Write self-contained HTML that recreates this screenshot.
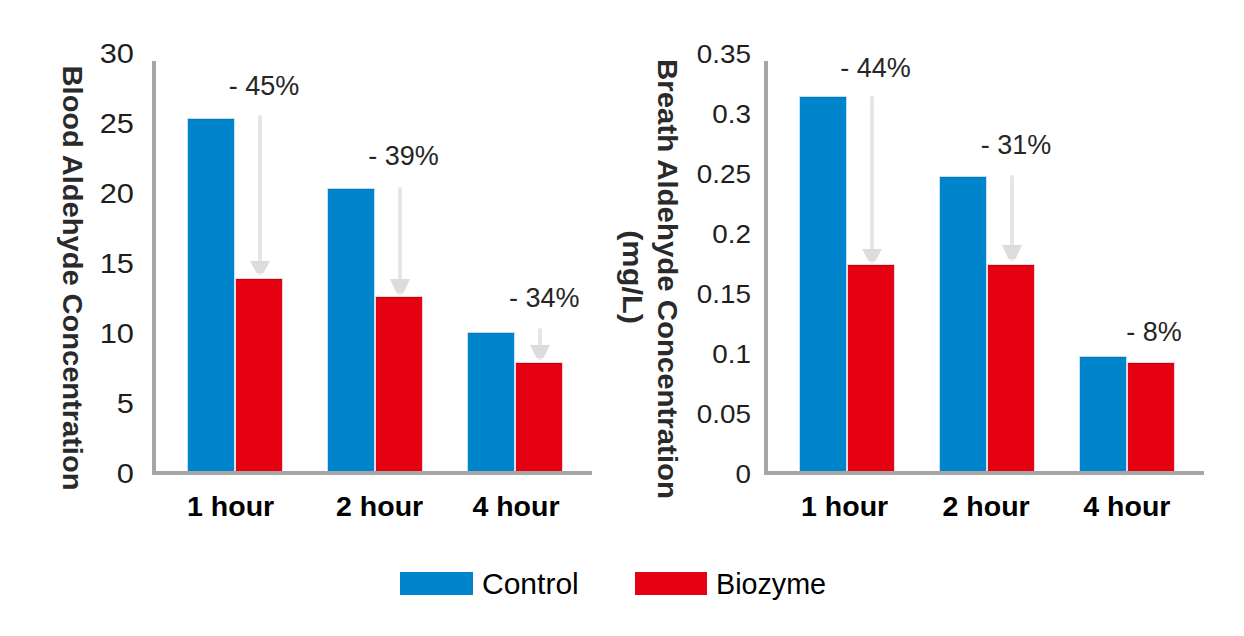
<!DOCTYPE html>
<html><head><meta charset="utf-8"><style>
html,body{margin:0;padding:0;background:#fff;}
body{width:1244px;height:636px;position:relative;overflow:hidden;font-family:"Liberation Sans",sans-serif;}
.tk,.pc,.xl,.yt,.lg{position:absolute;white-space:nowrap;line-height:1;}
.tk{width:200px;text-align:right;color:#1e1e1e;transform-origin:100% 50%;}
.tkL{font-size:27.5px;transform:scaleX(1.12);}
.tkR{font-size:26px;transform:scaleX(1.07);}
.pc{font-size:27px;color:#262626;transform:scaleX(1.0);transform-origin:0 50%;}
.xl{font-size:28.5px;font-weight:bold;color:#000;}
.yt{font-size:28px;font-weight:bold;color:#2a2a2a;}
.ytL{transform:translate(-50%,-50%) rotate(90deg) scaleX(1.037);}
.ytR{transform:translate(-50%,-50%) rotate(90deg) scaleX(1.05);}
.ytR2{transform:translate(-50%,-50%) rotate(90deg) scaleX(1.096);}
.lg{font-size:29px;color:#000;transform-origin:0 50%;}
.lgC{transform:scaleX(1.035);}
.lgB{transform:scaleX(0.99);}
</style></head><body>
<div style="position:absolute;left:152px;top:61px;width:4px;height:414px;background:#a6a6a6;"></div>
<div style="position:absolute;left:152px;top:471px;width:440px;height:4px;background:#a6a6a6;"></div>
<div style="position:absolute;left:188px;top:119px;width:46px;height:352px;background:#0084cc;box-shadow:0 0 0 1px #bfe2f6,inset 0 1px 0 #0874b4;"></div>
<div style="position:absolute;left:236px;top:279px;width:46px;height:192px;background:#e50012;box-shadow:0 0 0 1px #fbd3d6,inset 0 1px 0 #c4000f;"></div>
<div style="position:absolute;left:328px;top:189px;width:46px;height:282px;background:#0084cc;box-shadow:0 0 0 1px #bfe2f6,inset 0 1px 0 #0874b4;"></div>
<div style="position:absolute;left:376px;top:297px;width:46px;height:174px;background:#e50012;box-shadow:0 0 0 1px #fbd3d6,inset 0 1px 0 #c4000f;"></div>
<div style="position:absolute;left:468px;top:333px;width:46px;height:138px;background:#0084cc;box-shadow:0 0 0 1px #bfe2f6,inset 0 1px 0 #0874b4;"></div>
<div style="position:absolute;left:516px;top:363px;width:46px;height:108px;background:#e50012;box-shadow:0 0 0 1px #fbd3d6,inset 0 1px 0 #c4000f;"></div>
<div style="position:absolute;left:800px;top:97px;width:46px;height:374px;background:#0084cc;box-shadow:0 0 0 1px #bfe2f6,inset 0 1px 0 #0874b4;"></div>
<div style="position:absolute;left:848px;top:265px;width:46px;height:206px;background:#e50012;box-shadow:0 0 0 1px #fbd3d6,inset 0 1px 0 #c4000f;"></div>
<div style="position:absolute;left:940px;top:177px;width:46px;height:294px;background:#0084cc;box-shadow:0 0 0 1px #bfe2f6,inset 0 1px 0 #0874b4;"></div>
<div style="position:absolute;left:988px;top:265px;width:46px;height:206px;background:#e50012;box-shadow:0 0 0 1px #fbd3d6,inset 0 1px 0 #c4000f;"></div>
<div style="position:absolute;left:1080px;top:357px;width:46px;height:114px;background:#0084cc;box-shadow:0 0 0 1px #bfe2f6,inset 0 1px 0 #0874b4;"></div>
<div style="position:absolute;left:1128px;top:363px;width:46px;height:108px;background:#e50012;box-shadow:0 0 0 1px #fbd3d6,inset 0 1px 0 #c4000f;"></div>
<div style="position:absolute;left:764px;top:61px;width:4px;height:414px;background:#a6a6a6;"></div>
<div style="position:absolute;left:764px;top:471px;width:440px;height:4px;background:#a6a6a6;"></div>
<div style="position:absolute;left:152px;top:471px;width:440px;height:4px;background:#a6a6a6;"></div>
<div style="position:absolute;left:764px;top:471px;width:440px;height:4px;background:#a6a6a6;"></div>
<svg width="1244" height="636" style="position:absolute;left:0;top:0">
<rect x="258" y="115" width="4" height="147" rx="2" fill="#e6e6e6"/>
<polygon points="250,261 270,261 263.5,273 256.5,273" fill="#dcdcdc"/>
<rect x="258" y="273" width="4" height="2" fill="#dcdcdc" opacity="0.5"/>
<rect x="398" y="187" width="4" height="93" rx="2" fill="#e6e6e6"/>
<polygon points="390,279 410,279 403.5,293 396.5,293" fill="#dcdcdc"/>
<rect x="398" y="293" width="4" height="2" fill="#dcdcdc" opacity="0.5"/>
<rect x="538" y="328" width="4" height="18" rx="2" fill="#e6e6e6"/>
<polygon points="530,345 550,345 543.5,358 536.5,358" fill="#dcdcdc"/>
<rect x="538" y="358" width="4" height="2" fill="#dcdcdc" opacity="0.5"/>
<rect x="870" y="96" width="4" height="154" rx="2" fill="#e6e6e6"/>
<polygon points="862,249 882,249 875.5,261 868.5,261" fill="#dcdcdc"/>
<rect x="870" y="261" width="4" height="2" fill="#dcdcdc" opacity="0.5"/>
<rect x="1010" y="175" width="4" height="71" rx="2" fill="#e6e6e6"/>
<polygon points="1002,245 1022,245 1015.5,259 1008.5,259" fill="#dcdcdc"/>
<rect x="1010" y="259" width="4" height="2" fill="#dcdcdc" opacity="0.5"/>
</svg>
<div class="tk tkL" style="left:-66.2px;top:39.9px;">30</div>
<div class="tk tkL" style="left:-66.2px;top:109.9px;">25</div>
<div class="tk tkL" style="left:-66.2px;top:179.9px;">20</div>
<div class="tk tkL" style="left:-66.2px;top:249.9px;">15</div>
<div class="tk tkL" style="left:-66.2px;top:319.9px;">10</div>
<div class="tk tkL" style="left:-66.2px;top:389.9px;">5</div>
<div class="tk tkL" style="left:-66.2px;top:459.9px;">0</div>
<div class="tk tkR" style="left:551.4px;top:41.0px;">0.35</div>
<div class="tk tkR" style="left:551.4px;top:101.0px;">0.3</div>
<div class="tk tkR" style="left:551.4px;top:161.0px;">0.25</div>
<div class="tk tkR" style="left:551.4px;top:221.0px;">0.2</div>
<div class="tk tkR" style="left:551.4px;top:281.0px;">0.15</div>
<div class="tk tkR" style="left:551.4px;top:341.0px;">0.1</div>
<div class="tk tkR" style="left:551.4px;top:401.0px;">0.05</div>
<div class="tk tkR" style="left:551.4px;top:461.0px;">0</div>
<div class="pc" style="left:228.7px;top:72.8px;">- 45%</div>
<div class="pc" style="left:368.3px;top:142.5px;">- 39%</div>
<div class="pc" style="left:509.0px;top:285.4px;">- 34%</div>
<div class="pc" style="left:840.2px;top:54.5px;">- 44%</div>
<div class="pc" style="left:980.8px;top:132.3px;">- 31%</div>
<div class="pc" style="left:1126.3px;top:319.0px;">- 8%</div>
<div class="xl" style="left:187.1px;top:491.7px;">1 hour</div>
<div class="xl" style="left:336.1px;top:491.7px;">2 hour</div>
<div class="xl" style="left:472.4px;top:491.7px;">4 hour</div>
<div class="xl" style="left:801.1px;top:491.7px;">1 hour</div>
<div class="xl" style="left:942.6px;top:491.7px;">2 hour</div>
<div class="xl" style="left:1083.3px;top:491.7px;">4 hour</div>
<div class="yt ytL" style="left:72.0px;top:278.3px;">Blood Aldehyde Concentration</div>
<div class="yt ytR" style="left:667.0px;top:278.5px;">Breath Aldehyde Concentration</div>
<div class="yt ytR2" style="left:632.0px;top:277.0px;">(mg/L)</div>
<div style="position:absolute;left:400px;top:572px;width:73px;height:23px;background:#0084cc;"></div>
<div style="position:absolute;left:635px;top:572px;width:72px;height:23px;background:#e50012;"></div>
<div class="lg lgC" style="left:482.1px;top:570.0px;">Control</div>
<div class="lg lgB" style="left:716.2px;top:570.0px;">Biozyme</div>
</body></html>
